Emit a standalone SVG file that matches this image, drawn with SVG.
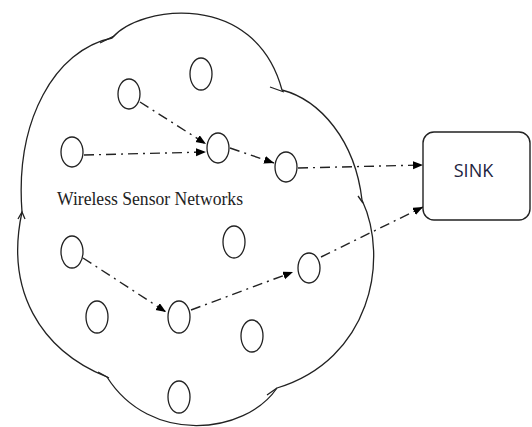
<svg xmlns="http://www.w3.org/2000/svg" width="532" height="427" viewBox="0 0 532 427">
<style>
.node{fill:#fff;stroke:#222;stroke-width:1.3}
.link{fill:none;stroke:#222;stroke-width:1.4;stroke-dasharray:10 5 2 5;marker-end:url(#arr)}
.cloud{fill:none;stroke:#222;stroke-width:1.3}
.t1{font-family:"Liberation Serif",serif;font-size:19px;fill:#222}
.t2{font-family:"Open Sans","Liberation Sans",sans-serif;font-size:18px;fill:#1d2440}
</style>
<defs>
<marker id="arr" markerUnits="userSpaceOnUse" markerWidth="11" markerHeight="9" refX="10" refY="4" orient="auto">
<path d="M0,0 L10,4 L0,8 z" fill="#000"/>
</marker>
</defs>
<g id="cloud">
<path class="cloud" d="M22,212 C15,120 55,50 112,38 C140,5 255,-10 282,90 C320,100 355,140 362,200 C390,260 370,360 277,388 C245,435 150,445 107,377 C40,350 5,290 22,212"/>
<path class="cloud" d="M100,43 L114,36 M270,87 L284,92 M358,196 L363,203 M277,388 L267,395 M98,372 L109,378 M18,219 L22,212 L25,219"/>
</g>
<g id="connectors">
<line class="link" x1="140" y1="102" x2="206" y2="144"/>
<line class="link" x1="84" y1="155" x2="206" y2="152"/>
<line class="link" x1="230" y1="148" x2="274" y2="163"/>
<line class="link" x1="298" y1="168" x2="423" y2="165"/>
<line class="link" x1="83" y1="258" x2="166" y2="312"/>
<line class="link" x1="191" y1="310" x2="293" y2="272"/>
<line class="link" x1="321" y1="257" x2="423" y2="207"/>
</g>
<g id="n1"><ellipse class="node" cx="201" cy="74" rx="11" ry="16"/></g>
<g id="n2"><ellipse class="node" cx="129" cy="94" rx="11" ry="15"/></g>
<g id="n3"><ellipse class="node" cx="72" cy="152" rx="11" ry="15"/></g>
<g id="n4"><ellipse class="node" cx="218" cy="148" rx="11" ry="15"/></g>
<g id="n5"><ellipse class="node" cx="286" cy="167" rx="11" ry="15"/></g>
<g id="n6"><ellipse class="node" cx="72" cy="252" rx="11" ry="16"/></g>
<g id="n7"><ellipse class="node" cx="234" cy="242" rx="11" ry="16"/></g>
<g id="n8"><ellipse class="node" cx="309" cy="268" rx="11" ry="15"/></g>
<g id="n9"><ellipse class="node" cx="97" cy="317" rx="11" ry="16"/></g>
<g id="n10"><ellipse class="node" cx="179" cy="317" rx="11" ry="16"/></g>
<g id="n11"><ellipse class="node" cx="252" cy="336" rx="11" ry="16"/></g>
<g id="n12"><ellipse class="node" cx="179" cy="397" rx="11" ry="16"/></g>
<g id="label"><text class="t1" x="57" y="205" textLength="186" lengthAdjust="spacingAndGlyphs">Wireless Sensor Networks</text></g>
<g id="sink">
<rect x="423" y="132" width="107" height="88" rx="11" fill="#fff" stroke="#222" stroke-width="1.4"/>
<text class="t2" x="473.5" y="177" text-anchor="middle">SINK</text>
</g>
</svg>
